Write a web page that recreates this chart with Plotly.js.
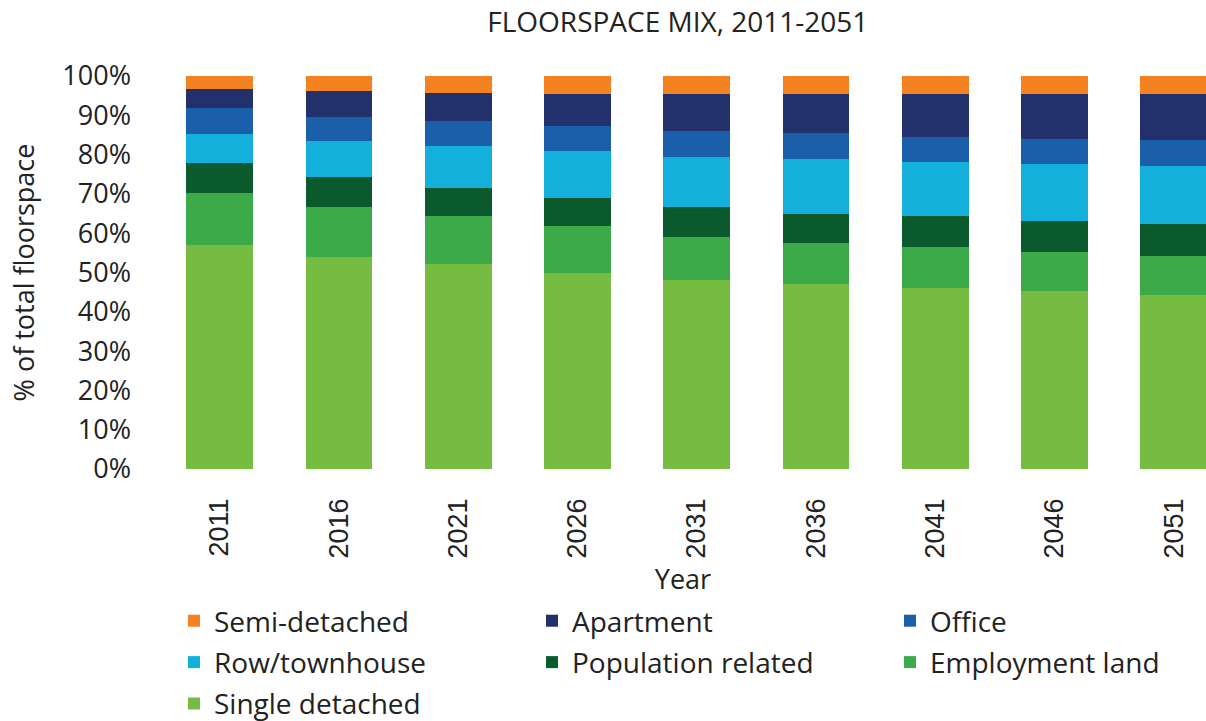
<!DOCTYPE html>
<html>
<head>
<meta charset="utf-8">
<script src="https://cdn.plot.ly/plotly-3.0.1.min.js"></script>
<style>html,body{margin:0;padding:0;background:#fff;}#chart{width:1206px;height:721px;}</style>
</head>
<body>
<div id="chart"></div>
<script>
const years = ["2011","2016","2021","2026","2031","2036","2041","2046","2051"];
const singleDetached    = [57.1, 54.0, 52.2, 50.0, 48.0, 47.1, 46.1, 45.2, 44.4];
const employmentLand    = [13.2, 12.7, 12.2, 11.8, 11.1, 10.4, 10.5, 10.0, 9.9];
const populationRelated = [7.5, 7.5, 7.2, 7.2, 7.5, 7.5, 7.8, 7.8, 8.1];
const rowTownhouse      = [7.5, 9.2, 10.5, 11.8, 12.9, 13.8, 13.8, 14.5, 14.8];
const office            = [6.5, 6.2, 6.5, 6.5, 6.4, 6.6, 6.4, 6.5, 6.5];
const apartment         = [4.9, 6.5, 7.1, 8.1, 9.5, 10.0, 10.8, 11.4, 11.7];
const semiDetached      = [3.3, 3.9, 4.3, 4.6, 4.6, 4.6, 4.6, 4.6, 4.6];

const seriesNames = ["Single detached","Employment land","Population related","Row/townhouse","Office","Apartment","Semi-detached"];
const seriesValues = [singleDetached, employmentLand, populationRelated, rowTownhouse, office, apartment, semiDetached];
const colors = ["#76BC43","#3DAA49","#0B5A2E","#13B0DB","#1B5FAA","#22306B","#F58220"];
// legend column for each series (legend grid is filled row by row from the top of the stack)
const legendIds = ["legend","legend3","legend2","legend","legend3","legend2","legend"];

const traces = seriesNames.map((n, i) => ({
  type: "bar",
  name: n,
  x: years,
  y: seriesValues[i],
  legend: legendIds[i],
  legendgroup: "g" + i,
  legendrank: 100 - i,
  marker: {color: colors[i], line: {width: 0}},
  hoverinfo: "name+y"
}));

// plot area: left 160px, width 1046px; top 76px, height 393px
function legendAt(px) {
  return {
    orientation: "v",
    traceorder: "grouped",
    tracegroupgap: 2,
    xref: "paper", yref: "paper",
    x: (px - 160) / 1046, xanchor: "left",
    y: (469 - 596) / 393, yanchor: "top",
    itemwidth: 30,
    font: {size: 28, color: "#222"},
    bgcolor: "rgba(0,0,0,0)"
  };
}

const layout = {
  width: 1206, height: 721,
  paper_bgcolor: "#fff", plot_bgcolor: "#fff",
  barmode: "stack",
  bargap: 0.44,
  margin: {l: 160, r: 0, t: 76, b: 252, pad: 0, autoexpand: false},
  font: {family: "Open Sans, sans-serif", color: "#222"},
  title: {text: "FLOORSPACE MIX, 2011-2051", font: {size: 28, color: "#222", family: "Open Sans"}, x: 0.562, xanchor: "center", yref: "container", y: 0.983, yanchor: "top"},
  xaxis: {
    type: "category",
    range: [-0.5, 8.27],
    tickangle: -90,
    tickfont: {family: "Liberation Sans, Arial", size: 27, color: "#222"},
    ticks: "", showline: false, showgrid: false, zeroline: false,
    ticklabelstandoff: 23,
    title: {text: "Year", font: {size: 27, color: "#222"}, standoff: 12}
  },
  yaxis: {
    range: [0, 100],
    dtick: 10,
    ticksuffix: "%",
    tickfont: {size: 27, color: "#222"},
    ticks: "", showline: false, showgrid: false, zeroline: false,
    ticklabelstandoff: 28,
    title: {text: "% of total floorspace", font: {size: 27, color: "#222"}, standoff: 19}
  },
  showlegend: true,
  legend: legendAt(174),
  legend2: legendAt(532),
  legend3: legendAt(890)
};

Plotly.newPlot("chart", traces, layout, {displayModeBar: false, staticPlot: true});
</script>
</body>
</html>
